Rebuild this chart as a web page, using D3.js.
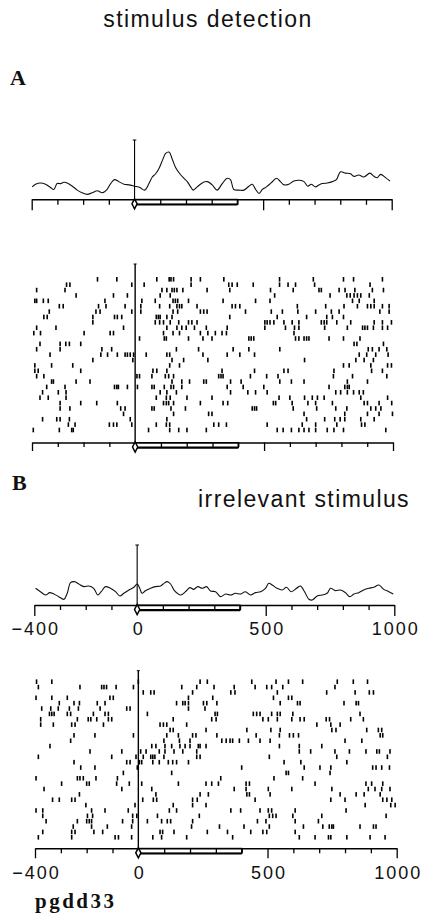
<!DOCTYPE html>
<html><head><meta charset="utf-8">
<script src="https://cdn.jsdelivr.net/npm/d3@7"></script>
<style>body{margin:0;background:#fff}svg{display:block}</style>
</head><body>
<svg id="c" width="421" height="921"></svg>
<script>
// ---------------- data ----------------
const tickValues = [-400,-300,-200,-100,0,100,200,300,400,500,600,700,800,900,1000];
const majorTicks = [-400,500,1000];
const labeledTicks = [-400,0,500,1000];
const stimulusWindow = [0,400];
const titleText = "stimulus detection";
const subtitleText = "irrelevant stimulus";
const cellName = "pgdd33";

const psthATimes = [-398,-385,-366,-346,-327,-314,-301,-288,-275,-262,-242,-223,-204,-184,-165,-145,-126,-109,-93,-78,-61,-41,-22,0,21,39,56,69,82,95,108,121,134,146,159,176,192,205,218,228,244,263,283,302,321,341,360,373,386,406,425,445,458,471,484,497,513,531,552,565,581,600,620,643,659,674,687,704,717,730,749,769,785,801,820,840,853,872,892,915,931,944,957,976,993];
const psthARates = [21,25.4,27.6,25.4,19.9,16.6,26.5,26.5,28.7,27.6,22.1,15.5,11,8.3,11,14.4,11,15.5,26.5,33.2,29.8,25.4,24.3,22.1,19.9,15.5,26.5,37.6,43.1,51.9,65.2,77.4,79.6,68.5,54.1,43.1,35.4,29.8,21,15.5,21,27.6,29.8,24.3,15.5,26.5,35.4,33.2,16.6,15.5,15.5,22.1,25.4,16.6,9.9,16.6,21,27.6,35.4,30.9,24.3,25.4,30.9,32,29.8,22.1,25.4,21,24.3,26.5,27.6,29.8,33.2,46.4,44.2,43.1,38.7,40.9,37.6,44.2,38.7,36.5,42,36.5,30.9];

const psthBTimes = [-395,-376,-356,-340,-324,-305,-285,-272,-259,-244,-227,-207,-188,-169,-153,-140,-123,-104,-84,-67,-52,-32,-13,0,10,19,32,52,71,91,104,117,130,145,169,188,205,220,236,253,270,285,305,324,344,363,382,402,421,441,460,480,499,512,525,544,564,581,599,620,635,651,668,681,700,719,739,752,771,791,810,827,843,862,881,901,920,940,959,979,996];
const psthBRates = [27.8,22.2,16.7,20.6,18.3,13.9,9.5,19.5,37.2,38.9,35,30.6,31.7,27.8,16.7,22.2,30.6,27.8,22.2,15,19.5,25,29.5,35,27.8,19.5,23.9,27.8,30.6,31.7,36.1,38.9,35,23.9,16.7,22.2,28.9,26.1,30.6,27.8,30.6,23.3,22.2,13.9,18.3,16.7,19.5,18.3,22.2,16.7,20.6,22.2,27.8,36.1,33.3,27.8,25,29.5,22.2,27.8,31.7,22.2,9.5,8.4,15,16.7,19.5,27.8,23.9,25,20.6,13.9,18.3,20.6,25,27.8,29.5,33.3,26.1,22.2,18.3];

const rasterA = [
  [-146,-71,84,132,139,149,217,253,344,560,691,808,847,959],
  [-266,-253,-13,35,217,363,376,396,458,560,593,622,696,911],
  [-382,-272,104,123,143,152,162,185,279,367,525,613,713,722,791,814,852,920,963],
  [-229,-84,-30,97,136,541,756,821,834,849,862,875,908],
  [-389,-382,-356,-337,-117,26,78,147,156,165,207,341,467,523,843,869,927],
  [-294,-279,-142,-113,-39,22,95,134,162,172,181,240,376,389,406,629,739,810,862,901,914,927,959,985],
  [-333,-152,-136,-13,22,147,165,253,266,279,428,528,571,631,700,761,791,949,985],
  [-354,-341,-164,-80,-69,-52,82,90,97,123,143,367,551,665,743,765,808],
  [-164,78,95,110,136,169,207,220,240,503,512,523,538,577,609,635,722,733,743,782,836,927,959,994],
  [-382,-307,-45,123,162,181,198,230,276,357,503,583,618,635,735,823,882,891,901,924,959,979],
  [-393,-367,-198,-97,-84,110,147,172,253,282,311,337,354,616],
  [17,113,121,207,263,298,441,450,460,622,635,655,665,674,752,808,872],
  [-369,-291,-269,-255,-211,849,860,963],
  [-382,-291,-129,-91,160,246,380,441,561,904,920,946,976],
  [-330,-133,-107,-69,-39,-30,-19,-6,43,123,134,263,357,406,463,869,898,933,981],
  [-164,-9,143,188,282,657,856,888,924],
  [-389,-324,-242,134,172,808,830,914,979,994],
  [-389,-376,-211,69,84,123,337,463,577,593,771,917,959],
  [-382,-354,7,17,65,117,130,149,324,333,341,447,510,554,769,843,976],
  [-324,-317,-229,-175,143,181,211,266,276,370,411,561,606,655,823,901],
  [-343,-272,-80,-71,-65,-30,9,65,74,113,139,149,181,357,419,499,752,813,823,830],
  [-359,-298,-268,97,123,160,370,437,467,512,778,797,823,847,869,885],
  [-369,-337,-268,82,121,136,201,298,558,600,657,687,707,733,875,979],
  [-291,-211,-149,-69,110,121,130,149,253,341,359,536,545,609,670,700,765,888,901,946,995],
  [-291,-253,-56,-39,65,74,139,195,454,463,471,613,704,778,821,914,933,953],
  [-45,149,285,298,655,813,901,946,998],
  [-359,-304,-291,-255,-19,123,665,735,774,795,813,875,927],
  [-259,-233,-100,-84,-71,-13,82,121,134,305,324,354,512,648,700,782,878,891],
  [-395,-294,-246,-240,52,134,169,201,276,551,574,606,635,655,674,700,745,771,808,972]
];

const rasterB = [
  [-394,-335,0,239,267,439,533,581,636,770,832,887],
  [-387,-226,-142,-133,-123,-86,-19,168,226,293,371,452,497,516,559,761],
  [19,48,61,210,358,374,538,729,839,894,910],
  [-396,-335,-275,-110,-97,194,288,523,581,594],
  [-306,-249,-228,-159,-129,148,172,181,194,252,265,304,549,616,626,796,843,852],
  [-374,-339,-310,-267,-232,-148,-45,-32,194,258],
  [-344,-335,-326,-275,-262,-174,-129,-116,35,297,306,445,458,471,516,538,549,598,858],
  [-378,-236,-194,-184,-161,-116,-103,135,284,301,482,503,538,594,626,642,727,740,822,871],
  [-378,-329,-258,-245,-135,84,97,110,187,691,745,781],
  [123,135,262,420,513,549,749,765,884,929,942],
  [-249,-168,-19,110,155,210,223,304,456,546,585,600,620,936,946],
  [-262,99,159,200,323,340,355,365,391,426,471,510,800,865],
  [-342,52,68,103,129,161,181,200,232,239,262,546,623,710],
  [-187,-64,9,30,81,103,138,172,226,623,667,761,817,881,923,933,974],
  [-387,-103,-9,19,48,56,64,99,226,239,507,768,964],
  [-249,-45,-32,4,13,56,81,116,133,148,194,564,629,807],
  [-223,-168,-4,400,642,703,745,907,920,942,972],
  [-58,129,572,581,742],
  [-396,-236,-226,-213,-164,-81,319,525,636],
  [-297,-200,-190,-84,-35,13,155,262,284,310,417,430,684,881,903,946],
  [-365,-64,52,371,417,503,594,749,890,916,942,974],
  [-228,68,239,271,420,430,510,781,843,874,936],
  [-332,-306,-258,-245,17,58,71,210,228,452,745,800,946,962,981],
  [-203,-13,135,210,262,878,977,994],
  [-396,-370,-181,-129,-39,120,148,358,396,471,503,516,607,804],
  [-370,-197,-177,-22,-6,74,236,507,520,533,598,710,959],
  [-357,-236,-200,-190,-181,-61,-22,35,90,112,125,210,461,494,607,697],
  [-252,-181,-120,-26,206,314,409,507,639,714,739,749,755,858,910,920],
  [-370,-258,-245,-172,-138,84,94,138,267,345,435,482,497,607],
  [-387,-258,-90,-77,-26,56,90,187,365,623,684,736,745,807,897,955]
];

// ---------------- drawing ----------------
const svg = d3.select("#c");
svg.append("rect").attr("width",421).attr("height",921).attr("fill","#fff");

const sans = "'Liberation Sans', Arial, Helvetica, sans-serif";
const serif = "'Liberation Serif', 'Times New Roman', serif";

function drawAxis(x, axisY, opts) {
  const g = svg.append("g").attr("transform", `translate(0,${axisY})`);
  const fmt = d3.format("d");
  const axis = d3.axisBottom(x).tickValues(tickValues).tickSize(opts.small).tickSizeOuter(0)
    .tickFormat(d => (opts.labels && labeledTicks.includes(d)) ? fmt(d) : "");
  g.call(axis);
  g.select(".domain").attr("stroke","#000").attr("stroke-width",1.6);
  g.selectAll(".tick line").attr("stroke","#000").attr("stroke-width",1.3)
    .attr("y2", d => majorTicks.includes(d) ? opts.big : opts.small);
  g.selectAll(".tick text")
    .attr("fill","#111").attr("font-family", sans).attr("font-size", 18)
    .attr("letter-spacing", 2).attr("dx", 1)
    .attr("dy", null).attr("y", opts.labelDy).attr("text-anchor", "middle");
  // stimulus marker
  const sx0 = x(stimulusWindow[0]), sx1 = x(stimulusWindow[1]);
  g.append("rect").attr("x", sx0).attr("y", 0).attr("width", sx1 - sx0).attr("height", 5)
    .attr("fill","none").attr("stroke","#000").attr("stroke-width",1);
  g.append("line").attr("x1", sx0).attr("x2", sx1).attr("y1", 5.2).attr("y2", 5.2)
    .attr("stroke","#000").attr("stroke-width",2.2);
  g.append("line").attr("x1", sx1).attr("x2", sx1).attr("y1", 0).attr("y2", 5.5)
    .attr("stroke","#000").attr("stroke-width",1.3);
  g.append("path")
    .attr("d", `M${sx0},-0.5 L${sx0+2.6},4.5 L${sx0},9.5 L${sx0-2.6},4.5 Z`)
    .attr("fill","#fff").attr("stroke","#000").attr("stroke-width",1.5);
}

function drawPSTH(times, rates, cfg) {
  const x = d3.scaleLinear().domain([-400,1000]).range(cfg.xr);
  const y = d3.scaleLinear().domain([0,100]).range([cfg.axisY, cfg.top]);
  const pts = times.map((t,i) => [t, rates[i]]);
  const line = d3.line().x(d => x(d[0])).y(d => y(d[1])).curve(d3.curveCatmullRom.alpha(0.5));
  svg.append("path").datum(pts).attr("d", line)
    .attr("fill","none").attr("stroke","#111").attr("stroke-width",1.1);
  // scale bar at stimulus onset
  svg.append("line").attr("x1", x(0)).attr("x2", x(0)).attr("y1", y(0)).attr("y2", y(100))
    .attr("stroke","#000").attr("stroke-width",1.1);
  svg.append("line").attr("x1", x(0)-1.8).attr("x2", x(0)+1.8).attr("y1", y(100)).attr("y2", y(100))
    .attr("stroke","#000").attr("stroke-width",1);
  drawAxis(x, cfg.axisY, cfg);
}

function drawRaster(trials, cfg) {
  const x = d3.scaleLinear().domain([-400,1000]).range(cfg.xr);
  const y = d3.scaleLinear().domain([0, trials.length - 1]).range(cfg.rows);
  const g = svg.append("g");
  trials.forEach((spikes, i) => {
    g.selectAll(null).data(spikes).enter().append("rect")
      .attr("x", d => x(d) - 0.8).attr("y", y(i) - 2.3)
      .attr("width", 1.6).attr("height", 4.6).attr("fill","#000");
  });
  svg.append("line").attr("x1", x(0)).attr("x2", x(0)).attr("y1", cfg.top).attr("y2", cfg.axisY)
    .attr("stroke","#000").attr("stroke-width",1.4);
  svg.append("line").attr("x1", x(0)-1.5).attr("x2", x(0)+1.5).attr("y1", cfg.top).attr("y2", cfg.top)
    .attr("stroke","#000").attr("stroke-width",1);
  drawAxis(x, cfg.axisY, cfg);
}

drawPSTH(psthATimes, psthARates, {xr:[31.7,391.7], axisY:199.3, top:140, small:5.5, big:11, labels:false});
drawRaster(rasterA, {xr:[32,393], axisY:442.5, top:264, rows:[279.3,430], small:4.5, big:8.5, labels:false});
drawPSTH(psthBTimes, psthBRates, {xr:[34.3,394.3], axisY:605, top:545, small:5, big:11, labels:true, labelDy:30});
drawRaster(rasterB, {xr:[35,396.7], axisY:848.3, top:670.7, rows:[681.7,837.3], small:5, big:10, labels:true, labelDy:31});

// ---------------- text ----------------
svg.append("text").attr("x", 208).attr("y", 27).attr("text-anchor","middle")
  .attr("font-family", sans).attr("font-size", 23).attr("letter-spacing", 1.4)
  .attr("fill","#111").text(titleText);
svg.append("text").attr("x", 10).attr("y", 85)
  .attr("font-family", serif).attr("font-weight","bold").attr("font-size", 22)
  .attr("fill","#111").text("A");
svg.append("text").attr("x", 12).attr("y", 490)
  .attr("font-family", serif).attr("font-weight","bold").attr("font-size", 22)
  .attr("fill","#111").text("B");
svg.append("text").attr("x", 410).attr("y", 507).attr("text-anchor","end")
  .attr("font-family", sans).attr("font-size", 23).attr("letter-spacing", 1.4)
  .attr("fill","#111").text(subtitleText);
svg.append("text").attr("x", 35).attr("y", 908)
  .attr("font-family", serif).attr("font-weight","bold").attr("font-size", 21).attr("letter-spacing", 2.5)
  .attr("fill","#111").text(cellName);
</script>
</body></html>
